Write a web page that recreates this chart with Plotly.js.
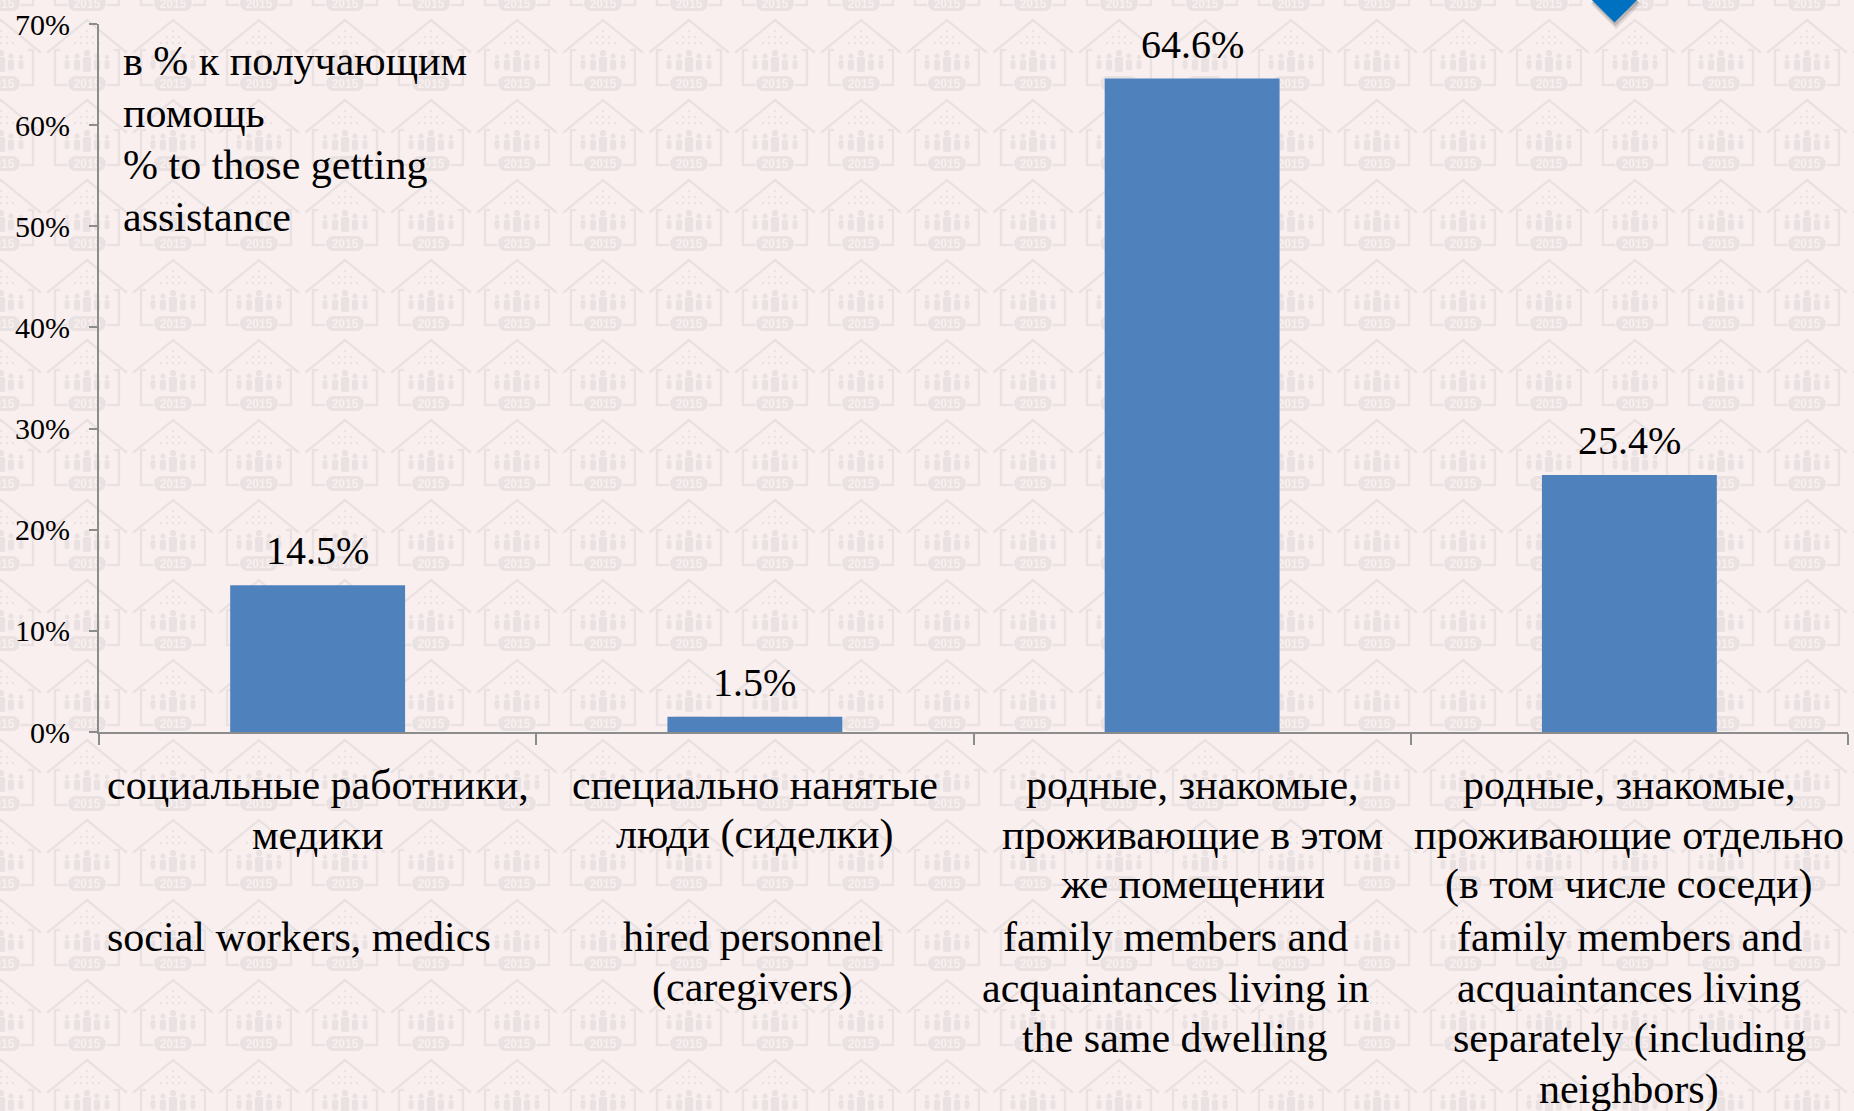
<!DOCTYPE html>
<html>
<head>
<meta charset="utf-8">
<script src="https://cdn.plot.ly/plotly-3.0.1.min.js"></script>
<style>
  html, body { margin: 0; padding: 0; }
  body { width: 1854px; height: 1111px; overflow: hidden; background-color: #F9EFEF; }
  #chart { width: 1854px; height: 1111px; }
</style>
</head>
<body>
<div id="chart"></div>
<script>
// ---- data ----
const categories = [
  'социальные работники, медики',
  'специально нанятые люди (сиделки)',
  'родные, знакомые, проживающие в этом же помещении',
  'родные, знакомые, проживающие отдельно (в том числе соседи)'
];
const values = [14.5, 1.5, 64.6, 25.4];
const valueLabels = ['14.5%', '1.5%', '64.6%', '25.4%'];
const labelsRu = [
  ['социальные работники,', 'медики'],
  ['специально нанятые', 'люди (сиделки)'],
  ['родные, знакомые,', 'проживающие в этом', 'же помещении'],
  ['родные, знакомые,', 'проживающие отдельно', '(в том числе соседи)']
];
const labelsEn = [
  ['social workers, medics'],
  ['hired personnel', '(caregivers)'],
  ['family members and', 'acquaintances living in', 'the same dwelling'],
  ['family members and', 'acquaintances living', 'separately (including', 'neighbors)']
];
const noteLines = ['в % к получающим', 'помощь', '% to those getting', 'assistance'];
const yTicks = [0, 10, 20, 30, 40, 50, 60, 70];

// ---- background watermark pattern ----
const pc = '#EAE2E2';
let tile = "<svg xmlns='http://www.w3.org/2000/svg' width='86' height='80'>" +
  "<g fill='none' stroke='" + pc + "' stroke-width='2.4' stroke-linecap='square'>" +
  "<path d='M4,40 L43,8 L82,40'/>" +
  "<path d='M15,38 L11,38 L11,73 L22,73'/>" +
  "<path d='M71,38 L75,38 L75,73 L64,73'/></g><g fill='" + pc + "'>";
for (let r = 0; r < 3; r++) {
  for (let c = -r; c <= r; c++) {
    tile += "<circle cx='" + (43 + c * 6) + "' cy='" + (19 + r * 6) + "' r='1.3'/>";
  }
}
tile += "<circle cx='43' cy='41' r='3.2'/><rect x='39' y='45' width='8' height='15' rx='2'/>" +
  "<circle cx='33' cy='44' r='2.6'/><rect x='30' y='47.5' width='6' height='11' rx='2'/>" +
  "<circle cx='53' cy='44' r='2.6'/><rect x='50' y='47.5' width='6' height='11' rx='2'/>" +
  "<circle cx='23' cy='45' r='2.2'/><rect x='20.5' y='48' width='5' height='9' rx='2'/>" +
  "<circle cx='63' cy='45' r='2.2'/><rect x='60.5' y='48' width='5' height='9' rx='2'/>" +
  "<rect x='24' y='64' width='38' height='15' rx='7.5'/>" +
  "<text x='43' y='75.5' font-family='Liberation Sans' font-weight='bold' font-size='12' text-anchor='middle' fill='#F9EFEF'>2015</text>" +
  "</g></svg>";
document.body.style.backgroundImage = 'url("data:image/svg+xml,' + encodeURIComponent(tile) + '")';
document.body.style.backgroundPosition = '44px 12px';

// ---- geometry helpers (plot area in pixels) ----
const L = 99, R = 1848, T = 24, B = 732;
const W = 1854, H = 1111;
const px2x = px => (px - L) / (R - L);
const py2y = py => (B - py) / (B - T);

const serif = 'Liberation Serif';
const axisGray = '#8C8C8C';

const annotations = [];

// value labels above bars
categories.forEach((c, i) => {
  annotations.push({
    x: c, y: values[i], xref: 'x', yref: 'y',
    text: valueLabels[i], showarrow: false,
    xanchor: 'center', yanchor: 'bottom', yshift: 10,
    font: { family: serif, size: 40, color: '#000000' }
  });
});

// category labels, one line per annotation for exact spacing
const ruY0 = 790, ruStep = 49.5, enY0 = 941.5, enStep = 50.8, catFont = 42;
const enShift = [-19, -2, -17, 0];
const boxOff = 0.11 * catFont;
categories.forEach((c, i) => {
  labelsRu[i].forEach((line, j) => {
    annotations.push({
      x: c, xref: 'x', yref: 'paper', y: py2y(ruY0 + j * ruStep - boxOff),
      text: line, showarrow: false, xanchor: 'center', yanchor: 'middle',
      font: { family: serif, size: catFont, color: '#000000' }
    });
  });
  labelsEn[i].forEach((line, j) => {
    annotations.push({
      x: c, xref: 'x', yref: 'paper', y: py2y(enY0 + j * enStep - boxOff), xshift: enShift[i],
      text: line, showarrow: false, xanchor: 'center', yanchor: 'middle',
      font: { family: serif, size: catFont, color: '#000000' }
    });
  });
});

// note in the top-left corner
const noteY0 = 65.5, noteStep = 52.2, noteFont = 42;
noteLines.forEach((line, j) => {
  annotations.push({
    x: px2x(121), xref: 'paper', yref: 'paper', y: py2y(noteY0 + j * noteStep - 0.11 * noteFont),
    text: line, showarrow: false, xanchor: 'left', yanchor: 'middle', align: 'left',
    font: { family: serif, size: noteFont, color: '#000000' }
  });
});

// decorative blue diamond at the top right (with soft shadow)
function diamond(cx, cy, h) {
  return 'M' + px2x(cx) + ',' + py2y(cy - h) +
    ' L' + px2x(cx + h) + ',' + py2y(cy) +
    ' L' + px2x(cx) + ',' + py2y(cy + h) +
    ' L' + px2x(cx - h) + ',' + py2y(cy) + ' Z';
}
const shapes = [
  { type: 'path', xref: 'paper', yref: 'paper', path: diamond(1616, 4, 25), fillcolor: 'rgba(0,0,0,0.10)', line: { width: 0 }, layer: 'above' },
  { type: 'path', xref: 'paper', yref: 'paper', path: diamond(1615.5, 2.5, 23.5), fillcolor: 'rgba(0,0,0,0.15)', line: { width: 0 }, layer: 'above' },
  { type: 'path', xref: 'paper', yref: 'paper', path: diamond(1614.5, 0, 22.6), fillcolor: '#0070C0', line: { width: 0 }, layer: 'above' }
];

const trace = {
  type: 'bar',
  x: categories,
  y: values,
  width: 0.4,
  marker: { color: '#4F81BD', line: { width: 0 } },
  hoverinfo: 'skip'
};

const layout = {
  width: W, height: H,
  margin: { l: L, r: W - R, t: T, b: H - B, pad: 0 },
  paper_bgcolor: 'rgba(0,0,0,0)',
  plot_bgcolor: 'rgba(0,0,0,0)',
  showlegend: false,
  font: { family: serif, color: '#000000' },
  xaxis: {
    type: 'category',
    range: [-0.5, 3.5],
    showticklabels: false,
    ticks: 'outside', tickson: 'boundaries', ticklen: 11, tickwidth: 2, tickcolor: axisGray,
    showline: true, linecolor: axisGray, linewidth: 2,
    showgrid: false, zeroline: false, fixedrange: true
  },
  yaxis: {
    range: [0, 70],
    tickvals: yTicks,
    ticktext: yTicks.map(v => v + '%'),
    ticks: 'outside', ticklen: 8, tickwidth: 2, tickcolor: axisGray,
    ticklabelstandoff: 13,
    tickfont: { family: serif, size: 30, color: '#000000' },
    showline: true, linecolor: axisGray, linewidth: 2,
    showgrid: false, zeroline: false, fixedrange: true
  },
  annotations: annotations,
  shapes: shapes
};

Plotly.newPlot('chart', [trace], layout, { displayModeBar: false, staticPlot: true });
</script>
</body>
</html>
